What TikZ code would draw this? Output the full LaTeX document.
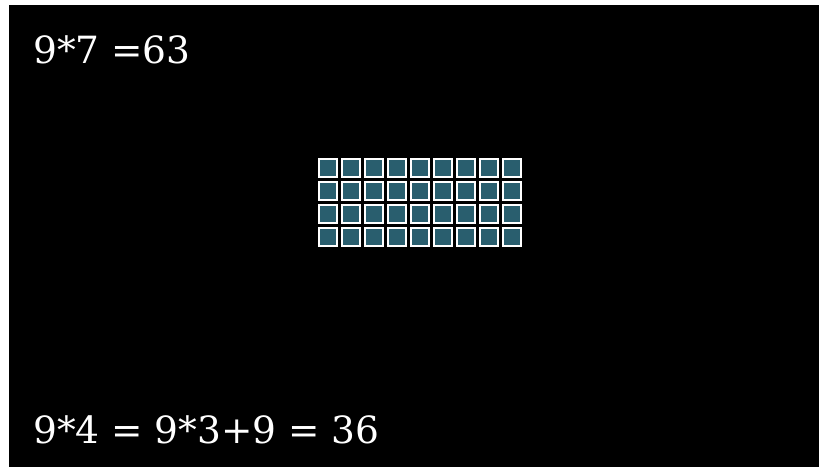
\documentclass[tikz,border=0pt]{standalone}
\usepackage{fontspec}
\setmainfont{DejaVu Serif}
\usepackage{xcolor}
\usepackage{tikz}
\usetikzlibrary{positioning}

\definecolor{cellteal}{RGB}{41,94,110}

\tikzset{
    cell/.style={rectangle, draw=white, line width=2.2pt, fill=cellteal,
        minimum size=18pt, inner sep=0pt},
    sum/.style={text=white, inner sep=0pt, anchor=base west,
        font=\fontsize{37.5}{40}\selectfont}
}

\begin{document}
\begin{tikzpicture}[x=1pt,y=-1pt]
\useasboundingbox (0,0) rectangle (819,467);
\fill[white] (0,0) rectangle (819,467);
\fill[black] (9,5) rectangle (819,467);
\node[sum] (top) at (33,63) {9*7 =63};
\foreach \i in {0,...,8} {
    \foreach \j in {0,...,3} {
        \node[cell] (sq-\i-\j) at (328+23*\i,168+23*\j) {};
    }
}
\node[sum] (bottom) at (33,443) {9*4 = 9*3+9 = 36};
\end{tikzpicture}
\end{document}
